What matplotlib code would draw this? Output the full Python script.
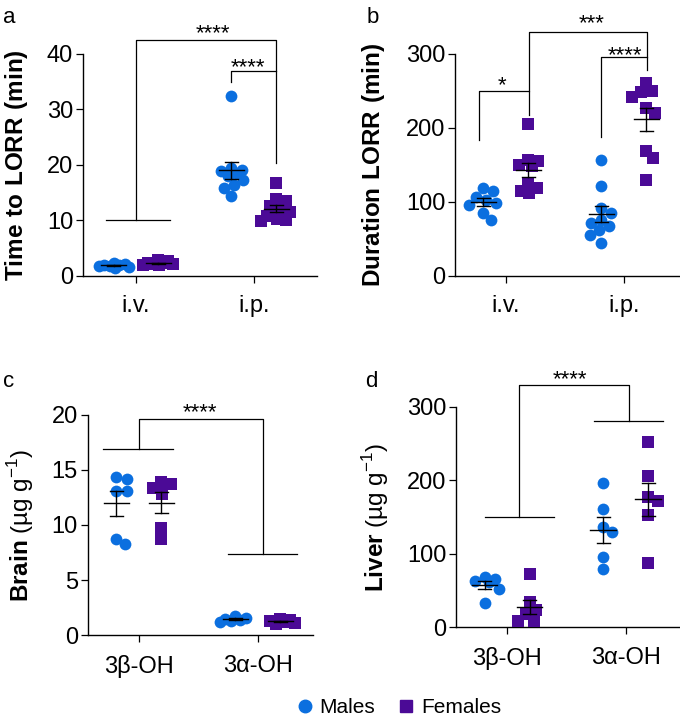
import numpy as np
import matplotlib
matplotlib.use('Agg')
import matplotlib.pyplot as plt
from matplotlib.lines import Line2D

plt.rcParams['font.family'] = ['Liberation Sans', 'DejaVu Sans']
plt.rcParams['mathtext.fontset'] = 'custom'
plt.rcParams['mathtext.rm'] = 'Liberation Sans'
plt.rcParams['mathtext.bf'] = 'Liberation Sans:bold'

MALE = '#0b6fdf'
FEMALE = '#4b0a96'

# ---- data ----
routes = ['i.v.', 'i.p.']
compounds = ['3β-OH', '3α-OH']

# a: time to LORR (min)
lorr_time_male = [[2.4, 2.1, 2.0, 1.9, 1.8, 1.7, 1.6, 1.5],
                  [32.3, 19.4, 19.1, 18.9, 18.6, 17.9, 17.2, 16.3, 15.8, 14.3]]
lorr_time_female = [[2.8, 2.6, 2.4, 2.3, 2.2, 2.1, 2.0, 1.9],
                    [16.8, 13.9, 13.4, 12.5, 12.0, 11.5, 10.8, 10.3, 10.0, 9.8]]

# b: duration of LORR (min)
lorr_dur_male = [[118, 114, 107, 103, 98, 96, 85, 76],
                 [157, 122, 91, 85, 76, 72, 67, 62, 55, 44]]
lorr_dur_female = [[205, 157, 155, 150, 148, 125, 118, 115, 112],
                   [260, 249, 248, 242, 227, 220, 169, 159, 130]]

# c: brain concentration (ug/g)
brain_male = [[14.35, 14.2, 13.1, 13.1, 8.76, 8.25],
              [1.7, 1.6, 1.5, 1.4, 1.3, 1.2]]
brain_female = [[13.9, 13.75, 13.3, 12.8, 9.7, 8.7],
                [1.5, 1.4, 1.3, 1.2, 1.15, 1.05]]

# d: liver concentration (ug/g)
liver_male = [[68, 65, 63, 61, 52, 33],
              [196, 161, 136, 129, 95, 79]]
liver_female = [[72, 34, 23, 18, 9, 9],
                [252, 205, 177, 172, 152, 87]]


fig = plt.figure(figsize=(6.8, 7.26), dpi=100)


def swarm(ax, values, xc, diam, max_px=15):
    # simple beeswarm in pixel space
    pts = ax.transData.transform([(xc, v) for v in values])
    x0 = pts[0, 0]
    ys = pts[:, 1]
    cands = [0.0]
    for k in np.arange(1, max_px + 0.1, 1.0):
        cands += [k, -k]
    placed = []
    offs = np.zeros(len(values))
    for i in np.argsort(-ys):
        best, bestc, bestd = None, 0.0, -1
        for c in cands:
            d = min([np.hypot(c - px, ys[i] - py) for px, py in placed], default=1e9)
            if d >= diam * 0.85:
                best = c
                break
            if d > bestd:
                bestd, bestc = d, c
        if best is None:
            best = bestc
        placed.append((best, ys[i]))
        offs[i] = best
    back = ax.transData.inverted().transform(np.column_stack([x0 + offs, ys]))
    return back[:, 0]


def group(ax, values, xc, color, marker, size, diam):
    xs = swarm(ax, values, xc, diam)
    ax.scatter(xs, values, s=size, marker=marker, color=color,
               linewidths=0, zorder=3, clip_on=False)
    m = np.mean(values)
    se = np.std(values, ddof=1) / np.sqrt(len(values))
    ax.plot([xc - 0.106, xc + 0.106], [m, m], color='k', lw=1.0, zorder=4)
    ax.plot([xc, xc], [m - se, m + se], color='k', lw=1.0, zorder=4)
    for yy in (m - se, m + se):
        ax.plot([xc - 0.055, xc + 0.055], [yy, yy], color='k', lw=1.0, zorder=4)


def panel(rect, xlim, ylim, yticks, labels, male, female, ylabel, label_x):
    ax = fig.add_axes(rect)
    ax.set_xlim(*xlim)
    ax.set_ylim(*ylim)
    ax.set_yticks(yticks)
    ax.set_xticks([0, 1])
    ax.set_xticklabels(labels)
    ax.spines['top'].set_visible(False)
    ax.spines['right'].set_visible(False)
    for s in ('left', 'bottom'):
        ax.spines[s].set_linewidth(1.0)
    ax.tick_params(axis='both', labelsize=17, length=5, width=0.9)
    ax.tick_params(axis='x', pad=9)
    ax.tick_params(axis='y', pad=2)
    ax.set_ylabel(ylabel, fontsize=17.5, va='center')
    ax.yaxis.set_label_coords(label_x, 0.5)
    for i in range(2):
        group(ax, male[i], i - 0.19, MALE, 'o', 72, 12)
        group(ax, female[i], i + 0.19, FEMALE, 's', 66, 11.5)
    return ax


def line(ax, xs, ys):
    ax.plot(xs, ys, color='k', lw=0.9, clip_on=False, zorder=2)


def stars(ax, x, y, txt):
    ax.text(x, y, txt, ha='center', va='center', fontsize=16)


# a
ax = panel([0.122, 0.620, 0.344, 0.306], (-0.449, 1.534), (0, 40), [0, 10, 20, 30, 40],
           routes, lorr_time_male, lorr_time_female, r'$\bf{Time\ to\ LORR\ (min)}$', -0.286)
line(ax, [-0.25, 0.29], [10.1, 10.1])
line(ax, [0, 0, 1.19, 1.19], [10.1, 42.4, 42.4, 20.3])
line(ax, [0.81, 0.81, 1.19], [34.9, 36.8, 36.8])
stars(ax, 0.65, 43.6, '****')
stars(ax, 0.95, 37.5, '****')

# b
ax = panel([0.669, 0.620, 0.329, 0.306], (-0.432, 1.466), (0, 300), [0, 100, 200, 300],
           routes, lorr_dur_male, lorr_dur_female, r'$\bf{Duration\ LORR\ (min)}$', -0.366)
line(ax, [-0.23, -0.23, 0.195, 0.195], [184, 250, 250, 217])
line(ax, [0.195, 0.195, 1.195, 1.195], [250, 330, 330, 278])
line(ax, [0.81, 0.81, 1.195], [188, 295.5, 295.5])
stars(ax, -0.03, 257, '*')
stars(ax, 0.73, 341, '***')
stars(ax, 1.01, 297, '****')

# c
ax = panel([0.129, 0.125, 0.331, 0.304], (-0.429, 1.462), (0, 20), [0, 5, 10, 15, 20],
           compounds, brain_male, brain_female, r'$\bf{Brain}$ (µg g$^{-1}$)', -0.298)
line(ax, [-0.30, 0.29], [16.85, 16.85])
line(ax, [0.75, 1.33], [7.34, 7.34])
line(ax, [0, 0, 1.04, 1.04], [16.85, 19.6, 19.6, 7.34])
stars(ax, 0.51, 20.2, '****')

# d
ax = panel([0.671, 0.136, 0.328, 0.304], (-0.429, 1.454), (0, 300), [0, 100, 200, 300],
           compounds, liver_male, liver_female, r'$\bf{Liver}$ (µg g$^{-1}$)', -0.362)
line(ax, [-0.185, 0.395], [150, 150])
line(ax, [0.73, 1.32], [281, 281])
line(ax, [0.1, 0.1, 1.025, 1.025], [150, 329.5, 329.5, 281])
stars(ax, 0.53, 337, '****')

# panel letters
for txt, x, y in [('a', 3, 23), ('b', 367, 23), ('c', 3, 387), ('d', 365, 387)]:
    fig.text(x / 680, 1 - y / 726, txt, fontsize=16, va='baseline', ha='left')

handles = [Line2D([], [], marker='o', ls='none', color=MALE, markersize=9, label='Males'),
           Line2D([], [], marker='s', ls='none', color=FEMALE, markersize=8.5, label='Females')]
fig.legend(handles=handles, loc='center', bbox_to_anchor=(0.585, 0.025), ncol=2,
           frameon=False, fontsize=15, handletextpad=0.2, columnspacing=1.0,
           handlelength=1.0)

fig.savefig('out.png', dpi=100)
